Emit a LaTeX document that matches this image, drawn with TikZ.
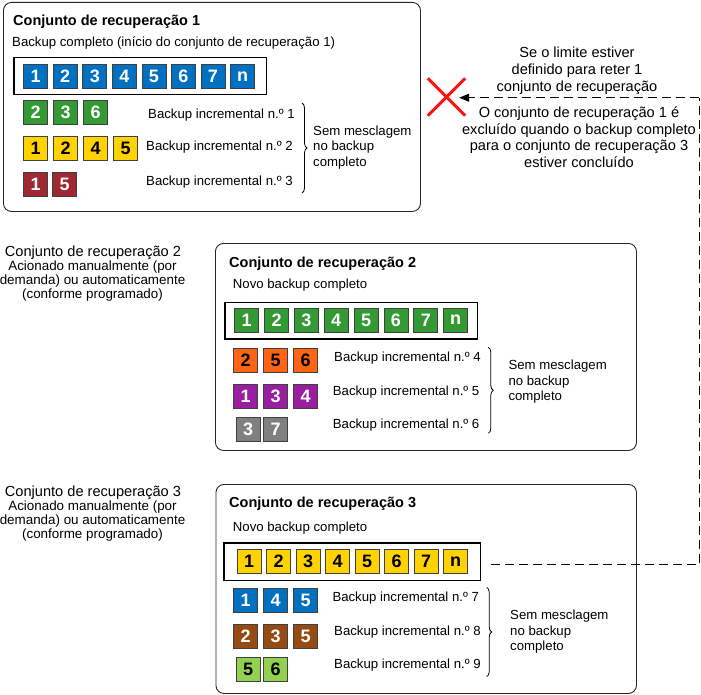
\documentclass[tikz,border=0pt]{standalone}
\usepackage{fontspec}
\setmainfont{Liberation Sans}
\usetikzlibrary{decorations.pathreplacing,arrows.meta,calc}
\definecolor{cblue}{RGB}{0,112,192}
\definecolor{cgreen}{RGB}{51,153,51}
\definecolor{cyellow}{RGB}{255,210,0}
\definecolor{cdred}{RGB}{160,40,50}
\definecolor{corange}{RGB}{255,100,20}
\definecolor{cpurple}{RGB}{153,30,160}
\definecolor{cgray}{RGB}{128,128,128}
\definecolor{cbrown}{RGB}{150,75,20}
\definecolor{clgreen}{RGB}{146,208,80}
\definecolor{cxred}{RGB}{255,20,20}
\begin{document}
\begin{tikzpicture}[x=1pt,y=-1pt,
  setbox/.style={draw=black!85, line width=0.9pt, rounded corners=8pt, anchor=north west, inner sep=0pt, fill=white},
  fullframe/.style={draw=black, line width=1.2pt, anchor=north west, inner sep=0pt},
  sq/.style={draw=black!75, line width=0.8pt, anchor=north west, minimum width=24pt, minimum height=24pt, inner sep=0pt, font=\fontsize{18}{18}\selectfont\bfseries},
  wsq/.style={sq, text=white},
  bsq/.style={sq, text=black},
  settitle/.style={anchor=west, inner sep=0pt, font=\fontsize{14.5}{17}\selectfont\bfseries},
  body/.style={anchor=west, inner sep=0pt, font=\fontsize{13.2}{16}\selectfont},
  merge/.style={anchor=west, inner sep=0pt, align=left, font=\fontsize{13.2}{15.7}\selectfont},
  note/.style={inner sep=0pt, align=center, font=\fontsize{14.6}{16.7}\selectfont},
  sidetitle/.style={inner sep=0pt, font=\fontsize{14.6}{16}\selectfont},
  sidesub/.style={inner sep=0pt, align=center, font=\fontsize{13.4}{13.6}\selectfont},
  brc/.style={decorate, decoration={brace, amplitude=5pt}, line width=0.8pt},
  dashline/.style={line width=1pt, dash pattern=on 9pt off 5pt},
  ]
\useasboundingbox (0,0) rectangle (701,695);

% ---------- Set 1 ----------
\node[setbox, minimum width=417pt, minimum height=209pt] (b1) at (3,2) {};
\node[settitle] (t1) at (13,22) {Conjunto de recuperação 1};
\node[body] (s1) at (12,43) {Backup completo (início do conjunto de recuperação 1)};
\node[fullframe, minimum width=252.4pt, minimum height=37pt] (f1) at (13.3,57.3) {};
\foreach \t [count=\i] in {1,2,3,4,5,6,7,n}
  \node[wsq, fill=cblue] (a\i) at ({23.3+29.55*(\i-1)},64.3) {\t};
\foreach \t [count=\i] in {2,3,6}
  \node[wsq, fill=cgreen] (i1s\i) at ({23.3+30*(\i-1)},100) {\t};
\foreach \t [count=\i] in {1,2,4,5}
  \node[bsq, fill=cyellow] (i2s\i) at ({23.3+30*(\i-1)},136) {\t};
\node[wsq, fill=cdred] (i3s1) at (23.3,171.7) {1};
\node[wsq, fill=cdred] (i3s2) at (52.3,171.7) {5};
\node[body] (l1) at (148,115) {Backup incremental n.º 1};
\node[body] (l2) at (146,147) {Backup incremental n.º 2};
\node[body] (l3) at (146,182) {Backup incremental n.º 3};
\coordinate (br1t) at (302,103);
\coordinate (br1b) at (302,193);
\draw[brc] (br1t) -- (br1b);
\node[merge] (m1) at (313,147.5) {Sem mesclagem\\no backup\\completo};

% ---------- Notes right ----------
\node[note] (n1) at (577,70.7) {Se o limite estiver\\definido para reter 1\\conjunto de recuperação};
\node[note] (n2) at (579,137.3) {O conjunto de recuperação 1 é\\excluído quando o backup completo\\para o conjunto de recuperação 3\\estiver concluído};
\node[minimum size=37pt, inner sep=0pt] (xmark) at (446.5,97) {};
\draw[cxred, line width=3pt] (xmark.north west) -- (xmark.south east);
\draw[cxred, line width=3pt] (xmark.south west) -- (xmark.north east);

% ---------- Set 2 ----------
\node[sidetitle] (lt2) at (93,252.3) {Conjunto de recuperação 2};
\node[sidesub] (ls2) at (92.5,281) {Acionado manualmente (por\\demanda) ou automaticamente\\(conforme programado)};
\node[setbox, minimum width=421pt, minimum height=207pt] (b2) at (215,243) {};
\node[settitle] (t2) at (229,263.3) {Conjunto de recuperação 2};
\node[body] (s2) at (232.7,285) {Novo backup completo};
\node[fullframe, minimum width=252.4pt, minimum height=36.6pt] (f2) at (224.3,301.7) {};
\foreach \t [count=\i] in {1,2,3,4,5,6,7,n}
  \node[wsq, fill=cgreen] (c\i) at ({234.3+29.85*(\i-1)},307.7) {\t};
\foreach \t [count=\i] in {2,5,6}
  \node[bsq, fill=corange] (i4s\i) at ({233.3+30*(\i-1)},348.3) {\t};
\foreach \t [count=\i] in {1,3,4}
  \node[wsq, fill=cpurple] (i5s\i) at ({233.3+30*(\i-1)},384.3) {\t};
\node[wsq, fill=cgray] (i6s1) at (235.7,417.3) {3};
\node[wsq, fill=cgray] (i6s2) at (263.3,417.3) {7};
\node[body] (l4) at (334,358.3) {Backup incremental n.º 4};
\node[body] (l5) at (332.7,391.7) {Backup incremental n.º 5};
\node[body] (l6) at (332.7,425) {Backup incremental n.º 6};
\coordinate (br2t) at (488.3,347.3);
\coordinate (br2b) at (488.3,433.3);
\draw[brc] (br2t) -- (br2b);
\node[merge] (m2) at (508.3,381.7) {Sem mesclagem\\no backup\\completo};

% ---------- Set 3 ----------
\node[sidetitle] (lt3) at (93,492.3) {Conjunto de recuperação 3};
\node[sidesub] (ls3) at (92.5,521) {Acionado manualmente (por\\demanda) ou automaticamente\\(conforme programado)};
\node[setbox, minimum width=420.5pt, minimum height=209pt] (b3) at (215.5,484) {};
\node[settitle] (t3) at (229,504) {Conjunto de recuperação 3};
\node[body] (s3) at (232.7,528.3) {Novo backup completo};
\node[fullframe, minimum width=256.7pt, minimum height=37.7pt] (f3) at (223.3,542.3) {};
\foreach \t [count=\i] in {1,2,3,4,5,6,7,n}
  \node[bsq, fill=cyellow] (e\i) at ({236.7+29.5*(\i-1)},549.3) {\t};
\foreach \t [count=\i] in {1,4,5}
  \node[wsq, fill=cblue] (i7s\i) at ({233.3+30*(\i-1)},588.3) {\t};
\foreach \t [count=\i] in {2,3,5}
  \node[wsq, fill=cbrown] (i8s\i) at ({233.3+30*(\i-1)},624.3) {\t};
\node[bsq, fill=clgreen] (i9s1) at (235.7,657.3) {5};
\node[bsq, fill=clgreen] (i9s2) at (263.3,657.3) {6};
\node[body] (l7) at (332.3,598.3) {Backup incremental n.º 7};
\node[body] (l8) at (334,631.7) {Backup incremental n.º 8};
\node[body] (l9) at (334,665) {Backup incremental n.º 9};
\coordinate (br3t) at (486.7,587.3);
\coordinate (br3b) at (486.7,676.7);
\draw[brc] (br3t) -- (br3b);
\node[merge] (m3) at (510,631.7) {Sem mesclagem\\no backup\\completo};

% ---------- Dashed connector ----------
\coordinate (dstart) at ($(f3.east)+(10,3.2)$);
\coordinate (dtop) at (699,97.7);
\coordinate (dend) at ($(xmark.east)+(-6,0.7)$);
\draw[dashline] (dstart) -| (dtop);
\draw[dashline, -{Triangle[length=10pt,width=8pt]}] (dtop) -- (dend);
\end{tikzpicture}
\end{document}
